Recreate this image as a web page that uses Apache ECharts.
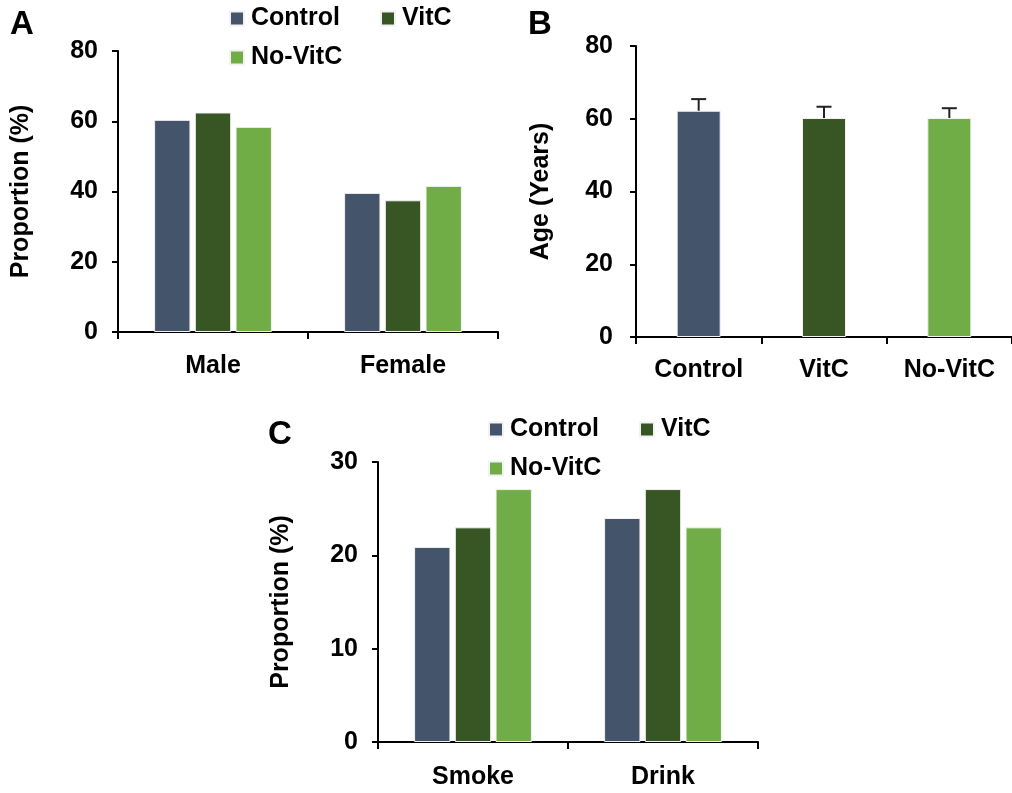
<!DOCTYPE html>
<html>
<head>
<meta charset="utf-8">
<script src="https://cdn.jsdelivr.net/npm/echarts@6/dist/echarts.min.js"></script>
<style>
  html, body { margin: 0; padding: 0; background: #fff; }
  #chart { width: 1012px; height: 793px; }
</style>
</head>
<body>
<div id="chart"></div>
<script>
// A: sex
var sexGroups = ["Male", "Female"];
var sexControl = [60.4, 39.6];
var sexVitC = [62.5, 37.5];
var sexNoVitC = [58.4, 41.6];
// B: age
var ageGroups = ["Control", "VitC", "No-VitC"];
var ageMean = [62.2, 60.2, 60.2];
var ageErr = [3.2, 3.1, 2.7];
// C: smoke / drink
var habitGroups = ["Smoke", "Drink"];
var habitControl = [20.9, 24.0];
var habitVitC = [23.0, 27.1];
var habitNoVitC = [27.1, 23.0];

var colors = ["#44546A", "#375623", "#70AD47"];
var font = "'Liberation Sans', Arial, sans-serif";
var txt = { color: "#000", fontFamily: font, fontWeight: "bold", fontSize: 25 };

var myChart = echarts.init(document.getElementById("chart"));

function xAx(grid, data, margin) {
  return {
    type: "category",
    gridIndex: grid,
    data: data,
    axisLine: { lineStyle: { color: "#000", width: 2 } },
    axisTick: { show: true, length: 7, lineStyle: { color: "#000", width: 2 } },
    axisLabel: Object.assign({ margin: margin, interval: 0 }, txt)
  };
}
function yAx(grid, max, step, name, gap, margin) {
  return {
    type: "value",
    gridIndex: grid,
    min: 0,
    max: max,
    interval: step,
    name: name,
    nameLocation: "middle",
    nameGap: gap,
    nameTextStyle: txt,
    axisLine: { show: true, lineStyle: { color: "#000", width: 2 } },
    axisTick: { show: true, length: 6, lineStyle: { color: "#000", width: 2 } },
    axisLabel: Object.assign({ margin: margin }, txt),
    splitLine: { show: false }
  };
}
function legendAt(name, left, top) {
  return {
    data: [name],
    left: left,
    top: top,
    icon: "rect",
    itemWidth: 14,
    itemHeight: 14,
    selectedMode: false,
    textStyle: Object.assign({ padding: [0, 0, 0, 2], lineHeight: 24 }, txt)
  };
}
function bar(name, grid, data, i) {
  return {
    name: name,
    type: "bar",
    xAxisIndex: grid,
    yAxisIndex: grid,
    data: data,
    barGap: "12%",
    barCategoryGap: "38%",
    itemStyle: { color: colors[i], borderColor: "#f2f2f2", borderWidth: 1 }
  };
}

var option = {
  animation: false,
  grid: [
    { left: 118, top: 51, width: 380, height: 281 },
    { left: 636, top: 46, width: 379, height: 291 },
    { left: 378, top: 462, width: 380, height: 280 }
  ],
  legend: [
    legendAt("Control", 224, 1),
    legendAt("VitC", 375, 1),
    legendAt("No-VitC", 224, 40),
    legendAt("Control", 483, 412),
    legendAt("VitC", 634, 412),
    legendAt("No-VitC", 483, 451)
  ],
  xAxis: [xAx(0, sexGroups, 22), xAx(1, ageGroups, 21), xAx(2, habitGroups, 23)],
  yAxis: [
    yAx(0, 80, 20, "Proportion (%)", 84, 20),
    yAx(1, 80, 20, "Age (Years)", 82, 23),
    yAx(2, 30, 10, "Proportion (%)", 84, 20)
  ],
  graphic: [
    { type: "text", left: 10, top: 8, style: { text: "A", font: "bold 33px " + font, fill: "#000" } },
    { type: "text", left: 528, top: 8, style: { text: "B", font: "bold 33px " + font, fill: "#000" } },
    { type: "text", left: 268, top: 418, style: { text: "C", font: "bold 33px " + font, fill: "#000" } }
  ],
  series: [
    bar("Control", 0, sexControl, 0),
    bar("VitC", 0, sexVitC, 1),
    bar("No-VitC", 0, sexNoVitC, 2),
    {
      name: "Age",
      type: "bar",
      xAxisIndex: 1,
      yAxisIndex: 1,
      barWidth: 44,
      data: ageMean.map(function (v, i) {
        return { value: v, itemStyle: { color: colors[i], borderColor: "#f2f2f2", borderWidth: 1 } };
      })
    },
    {
      name: "AgeErr",
      type: "custom",
      xAxisIndex: 1,
      yAxisIndex: 1,
      z: 5,
      data: ageMean.map(function (v, i) { return [i, v, ageErr[i]]; }),
      renderItem: function (params, api) {
        var p = api.coord([api.value(0), api.value(1)]);
        var t = api.coord([api.value(0), api.value(1) + api.value(2)]);
        var s = { stroke: "#222", lineWidth: 2 };
        return {
          type: "group",
          children: [
            { type: "line", shape: { x1: p[0], y1: p[1], x2: t[0], y2: t[1] }, style: s },
            { type: "line", shape: { x1: t[0] - 7.5, y1: t[1], x2: t[0] + 7.5, y2: t[1] }, style: s }
          ]
        };
      }
    },
    bar("Control", 2, habitControl, 0),
    bar("VitC", 2, habitVitC, 1),
    bar("No-VitC", 2, habitNoVitC, 2)
  ]
};
myChart.setOption(option);
</script>
</body>
</html>
